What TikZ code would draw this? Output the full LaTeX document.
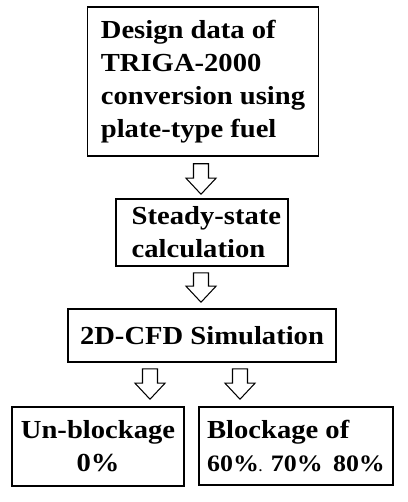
\documentclass[tikz,border=0pt]{standalone}
\usepackage{fontspec}
\setmainfont{Liberation Serif}[FakeStretch=1.1]
\usetikzlibrary{calc}
\tikzset{>=latex}
\tikzset{%
  stagebox/.style={draw,line width=0.9pt,inner sep=0pt,
    font=\bfseries\fontsize{14.8}{18.8}\selectfont}%
}
% hollow block arrow from #1 (top of shaft) to #2 (tip)
\newcommand{\hollowarrow}[2]{%
  \draw[line width=0.6pt,fill=white] ($#1+(-7.5,0)$) -- ($#1+(7.5,0)$) --
  ($#2+(7.5,-16)$) -- ($#2+(15,-16)$) -- #2 -- ($#2+(-15,-16)$) --
  ($#2+(-7.5,-16)$) -- cycle;}

\begin{document}
\begin{tikzpicture}[x=0.02cm,y=-0.02cm]
  \useasboundingbox (0,0) rectangle (407,502);
  \node[stagebox,align=left,minimum width=4.62cm,minimum height=2.98cm]
    (design) at (203,81.5) {Design data of\\TRIGA-2000\\conversion using\\plate-type fuel};
  \node[stagebox,align=left,minimum width=3.44cm,minimum height=1.34cm]
    (steady) at (202,232.5) {\hspace*{5pt}Steady-state\\\hspace*{5pt}calculation};
  \node[stagebox,minimum width=5.36cm,minimum height=1.06cm]
    (cfd) at (202,335.5) {2D-CFD Simulation};
  \node[stagebox,align=center,minimum width=3.44cm,minimum height=1.58cm]
    (unblock) at (98,446.5) {Un-blockage\\0\%};
  \node[stagebox,align=left,minimum width=3.88cm,minimum height=1.56cm]
    (block) at (296,446) {Blockage of\\{\fontsize{13.4}{18.8}\selectfont 60\%{\scriptsize.} 70\%\, 80\%}};
  % arrows between the stages
  \hollowarrow{($(design.south)+(-2,7)$)}{($(steady.north)+(-1,-4)$)}
  \hollowarrow{($(steady.south)+(-1,6)$)}{($(cfd.north)+(-1,-6)$)}
  \coordinate (s1) at ($(cfd.south)+(-52,6)$);
  \coordinate (s2) at ($(cfd.south)+(38,6)$);
  \hollowarrow{(s1)}{($(s1 |- unblock.north)+(0,-7)$)}
  \hollowarrow{(s2)}{($(s2 |- block.north)+(0,-7)$)}
\end{tikzpicture}
\end{document}
